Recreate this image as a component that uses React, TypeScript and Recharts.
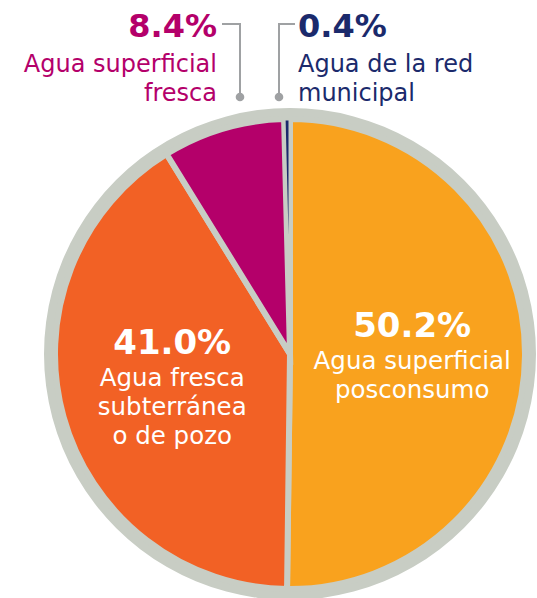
import React from 'react';
import { PieChart, Pie, Cell } from 'recharts';

const categories = [
  'Agua superficial posconsumo',
  'Agua fresca subterránea o de pozo',
  'Agua superficial fresca',
  'Agua de la red municipal',
];
const shares = [50.2, 41.0, 8.4, 0.4];
const labelLines = [
  ['Agua superficial', 'posconsumo'],
  ['Agua fresca', 'subterránea', 'o de pozo'],
  ['Agua superficial', 'fresca'],
  ['Agua de la red', 'municipal'],
];
const sliceColors = ['#F9A21E', '#F26125', '#B4006A', '#1B2A6C'];
const labelColors = ['#FFFFFF', '#FFFFFF', '#B4006A', '#1B2A6C'];

const ringColor = '#C8CDC4';
const leaderColor = '#9FA1A3';
const FONT = '"DejaVu Sans", sans-serif';
const RADIAN = Math.PI / 180;

const data = categories.map((name, i) => ({ name, value: shares[i] }));
const ringData = [{ name: 'ring', value: 1 }];

function renderLabel(props: any) {
  const { cx, cy, midAngle, outerRadius, index } = props;
  const pct = shares[index].toFixed(1) + '%';
  const lines = labelLines[index];
  const color = labelColors[index];
  if (index < 2) {
    const r = outerRadius * 0.52;
    const x = cx + r * Math.cos(-midAngle * RADIAN);
    const y = cy + r * Math.sin(-midAngle * RADIAN);
    const n = lines.length + 1;
    const H = 25 + 32 + 29 * (n - 2);
    const top = y - H / 2;
    return (
      <g key={'lbl' + index}>
        <text x={x} y={top + 25} textAnchor="middle" fill={color} fontFamily={FONT} fontWeight="bold" fontSize={34}>
          {pct}
        </text>
        {lines.map((l, i) => (
          <text key={i} x={x} y={top + 57 + 29 * i} textAnchor="middle" fill={color} fontFamily={FONT} fontSize={24.5}>
            {l}
          </text>
        ))}
      </g>
    );
  }
  const isLeft = index === 2;
  const tx = isLeft ? cx - 73 : cx + 8;
  const anchor = isLeft ? 'end' : 'start';
  const lx0 = isLeft ? cx - 68 : cx + 5;
  const lx1 = isLeft ? cx - 50 : cx - 11;
  const ly = cy - 330;
  const dotY = cy - 257;
  return (
    <g key={'lbl' + index}>
      <polyline points={`${lx0},${ly} ${lx1},${ly} ${lx1},${dotY}`} fill="none" stroke={leaderColor} strokeWidth={2} />
      <circle cx={lx1} cy={dotY} r={4.3} fill={leaderColor} />
      <text x={tx} y={cy - 317} textAnchor={anchor} fill={color} fontFamily={FONT} fontWeight="bold" fontSize={32}>
        {pct}
      </text>
      {lines.map((l, i) => (
        <text key={i} x={tx} y={cy - 282 + 29 * i} textAnchor={anchor} fill={color} fontFamily={FONT} fontSize={24}>
          {l}
        </text>
      ))}
    </g>
  );
}

export default function App() {
  return (
    <div style={{ position: 'absolute', left: 0, top: 0, width: 537, height: 598, background: '#fff' }}>
      <PieChart width={537} height={598} margin={{ top: 0, right: 0, bottom: 0, left: 0 }}>
        <Pie
          data={ringData}
          dataKey="value"
          cx={290}
          cy={354}
          outerRadius={246}
          innerRadius={0}
          startAngle={90}
          endAngle={-270}
          fill={ringColor}
          stroke="none"
          isAnimationActive={false}
        />
        <Pie
          data={data}
          dataKey="value"
          nameKey="name"
          cx={290}
          cy={354}
          outerRadius={235}
          innerRadius={0}
          startAngle={90}
          endAngle={-270}
          stroke={ringColor}
          strokeWidth={6}
          label={renderLabel}
          labelLine={false}
          isAnimationActive={false}
        >
          {data.map((d, i) => (
            <Cell key={d.name} fill={sliceColors[i]} stroke={ringColor} strokeWidth={i === 3 ? 3 : 6} />
          ))}
        </Pie>
      </PieChart>
    </div>
  );
}
